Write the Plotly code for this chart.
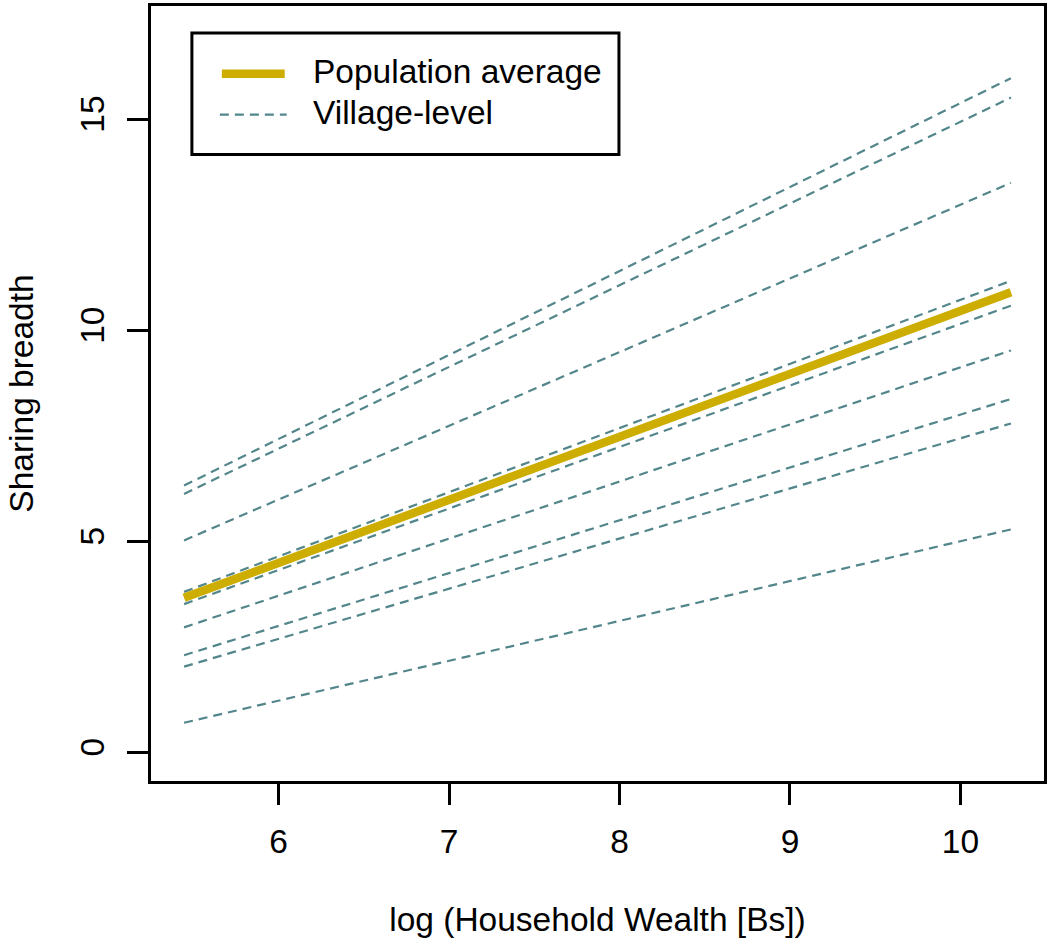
import plotly.graph_objects as go

# ---- data ----
x_range_data = [5.446, 10.296]          # log household wealth: start / end of each fitted line
pop_avg_start = 3.66
pop_avg_end = 10.90
village_start = [6.32, 6.12, 5.02, 3.80, 3.51, 2.96, 2.30, 2.03, 0.70]
village_end = [15.97, 15.51, 13.49, 11.17, 10.58, 9.52, 8.37, 7.79, 5.28]
x_ticks = [6, 7, 8, 9, 10]
y_ticks = [0, 5, 10, 15]
legend_labels = ["Population average", "Village-level"]

GOLD = "#CDAD00"
TEAL = "#53868B"
FONT = "Liberation Sans, Arial, sans-serif"
FS = 33.5

W, H = 1050, 940
L, R, T, B = 151, 4, 3, 159

fig = go.Figure()

for i, (ys, ye) in enumerate(zip(village_start, village_end)):
    fig.add_trace(go.Scatter(
        x=x_range_data, y=[ys, ye], mode="lines",
        line=dict(color=TEAL, width=2.2, dash="9px,6px"),
        name=legend_labels[1], showlegend=False, hoverinfo="skip"))

fig.add_trace(go.Scatter(
    x=x_range_data, y=[pop_avg_start, pop_avg_end], mode="lines",
    line=dict(color=GOLD, width=8.5),
    name=legend_labels[0], showlegend=False))

# ---- manual legend (R-style box) ----
pw, ph = W - L - R, H - T - B
def px(xp):
    return (xp - L) / pw
def py(yp):
    return (H - B - yp) / ph

shapes = [
    dict(type="rect", xref="paper", yref="paper",
         x0=px(192), x1=px(620), y0=py(152), y1=py(30),
         line=dict(color="black", width=3), fillcolor="white", layer="above"),
    dict(type="line", xref="paper", yref="paper",
         x0=px(222), x1=px(285), y0=py(71), y1=py(71),
         line=dict(color=GOLD, width=8.5), layer="above"),
    dict(type="line", xref="paper", yref="paper",
         x0=px(220), x1=px(287), y0=py(112), y1=py(112),
         line=dict(color=TEAL, width=2.2, dash="9px,6px"), layer="above"),
]
annotations = [
    dict(xref="paper", yref="paper", x=px(311), y=py(69), text=legend_labels[0],
         showarrow=False, xanchor="left", yanchor="middle",
         font=dict(family=FONT, size=FS, color="black")),
    dict(xref="paper", yref="paper", x=px(311), y=py(110), text=legend_labels[1],
         showarrow=False, xanchor="left", yanchor="middle",
         font=dict(family=FONT, size=FS, color="black")),
]

axis_common = dict(
    showgrid=False, zeroline=False, showline=True, linecolor="black", linewidth=3,
    mirror=True, ticks="outside", ticklen=21, tickwidth=3, tickcolor="black",
    tickfont=dict(family=FONT, size=FS, color="black"),
)

fig.update_layout(
    width=W, height=H,
    margin=dict(l=L, r=R, t=T, b=B),
    paper_bgcolor="white", plot_bgcolor="white",
    showlegend=False,
    shapes=shapes, annotations=annotations,
    xaxis=dict(range=[5.252, 10.49], tickvals=x_ticks, ticktext=[str(v) for v in x_ticks],
               ticklabelstandoff=8,
               title=dict(text="log (Household Wealth [Bs])", standoff=49,
                          font=dict(family=FONT, size=FS, color="black")),
               **axis_common),
    yaxis=dict(range=[-0.68, 17.68], tickvals=y_ticks, ticktext=[str(v) for v in y_ticks],
               tickangle=-90, ticklabelstandoff=10,
               title=dict(text="Sharing breadth", standoff=30,
                          font=dict(family=FONT, size=FS, color="black")),
               **axis_common),
)

fig.write_html("out.html", config={"displayModeBar": False},
               post_script="document.body.style.margin='0px';")
